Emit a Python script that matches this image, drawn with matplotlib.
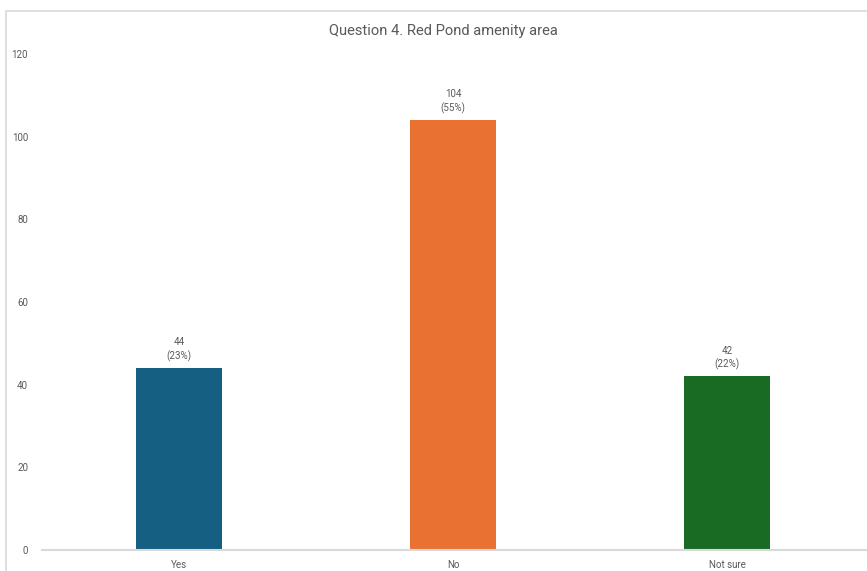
import matplotlib
matplotlib.use("Agg")
import matplotlib.pyplot as plt
from matplotlib.patches import Rectangle

categories = ["Yes", "No", "Not sure"]
counts = [44, 104, 42]
percents = [23, 55, 22]
colors = ["#156082", "#E97132", "#196B24"]
yticks = [0, 20, 40, 60, 80, 100, 120]

plt.rcParams["font.family"] = ["Roboto", "DejaVu Sans"]
text_color = "#595959"

fig = plt.figure(figsize=(8.67, 5.71), dpi=100)

# light chart frame
fig.patches.append(Rectangle((6 / 867, -0.1), 1.2, (571 - 11) / 571 + 0.1,
                             transform=fig.transFigure, fill=False,
                             edgecolor="#D9D9D9", linewidth=1.2))

ax = fig.add_axes([42 / 867, 21 / 571, 825 / 867, 496 / 571])
x = range(len(categories))
bars = ax.bar(x, counts, width=0.315, color=colors, zorder=2)

for bar, c, p in zip(bars, counts, percents):
    ax.annotate(f"{c}\n({p}%)", (bar.get_x() + bar.get_width() / 2, c),
                xytext=(0, 4.5), textcoords="offset points",
                ha="center", va="bottom", fontsize=7, color=text_color,
                linespacing=1.35)

ax.set_xlim(-0.5, 2.51)
ax.set_ylim(0, 120)
ax.set_xticks(list(x))
ax.set_xticklabels(categories)
ax.set_yticks(yticks)
ax.tick_params(axis="both", length=0, labelsize=7, labelcolor=text_color)
ax.tick_params(axis="y", pad=10)
ax.tick_params(axis="x", pad=7)

for side in ["top", "right", "left"]:
    ax.spines[side].set_visible(False)
ax.spines["bottom"].set_color("#D9D9D9")
ax.spines["bottom"].set_linewidth(1.5)

fig.text(443 / 867, 1 - 31 / 571, "Question 4. Red Pond amenity area",
         ha="center", va="center", fontsize=10.6, color=text_color)

fig.savefig("out.png", dpi=100)
